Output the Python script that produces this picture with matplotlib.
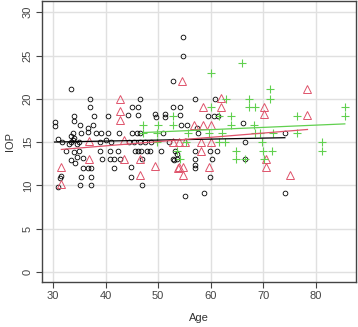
import numpy as np
import matplotlib
matplotlib.use("Agg")
from matplotlib import pyplot as plt

plt.rcParams['font.family'] = ['Liberation Sans', 'DejaVu Sans']

# group 1 (black circles)
age_1 = [33.4, 37.1, 46.5, 57.0, 60.8, 37.1, 45.0, 46.2, 52.9, 54.1, 54.8, 54.8, 52.8,
         34.0, 37.9, 40.5, 44.3, 46.2, 49.4, 49.6, 51.3, 51.3, 54.1, 59.5, 60.7, 61.4,
         30.3, 30.3, 34.1, 35.1, 37.7, 54.3, 55.4, 66.2, 57.4, 36.7, 36.7,
         35.4, 33.9, 38.2, 39.2, 40.5, 42.5, 45.0, 46.0, 46.6, 51.0, 57.6, 74.1, 33.5, 34.0,
         31.0, 31.7, 33.4, 33.9, 34.5, 35.0, 39.0, 40.0, 41.0, 44.5, 45.5, 46.6, 47.5, 48.6,
         66.5, 52.0, 33.0,
         32.5, 35.0, 38.9, 40.8, 42.4, 45.6, 46.2, 46.7, 47.8, 48.4, 50.5, 53.2, 57.0,
         59.8, 61.2, 53.6, 34.0,
         34.6, 35.8, 39.4, 40.8, 41.7, 42.7, 46.9, 52.8, 53.0, 53.6, 57.0, 60.2, 66.5,
         57.0, 33.5, 34.2,
         35.7, 36.6, 37.3, 41.7, 44.8, 57.0,
         31.6, 31.3, 35.4, 37.3, 44.8, 59.8,
         31.0, 35.2, 37.3, 47.0,
         55.2, 58.7, 74.1]
iop_1 = [21.1, 20.0, 20.0, 20.0, 20.0, 19.0, 19.1, 19.1, 19.1, 19.1, 27.1, 25.0, 22.1,
         18.0, 18.0, 18.0, 18.1, 18.1, 18.3, 17.9, 18.3, 17.9, 18.1, 18.0, 18.0, 18.0,
         17.3, 16.8, 17.4, 17.0, 17.0, 17.0, 17.0, 17.2, 16.6, 16.6, 16.2,
         16.0, 16.0, 16.0, 16.0, 16.0, 16.0, 16.0, 16.0, 16.0, 16.0, 16.0, 16.1, 15.7, 15.5,
         15.3, 15.0, 15.0, 15.2, 14.8, 15.0, 15.0, 15.2, 15.0, 15.0, 15.0, 15.0, 15.0, 15.0,
         15.0, 15.0, 14.8,
         14.0, 14.0, 14.0, 14.0, 14.0, 14.0, 14.0, 14.0, 14.0, 14.0, 14.0, 14.0, 14.0,
         14.0, 14.0, 13.6, 13.8,
         13.3, 13.2, 13.1, 13.1, 13.1, 13.1, 13.0, 13.0, 12.9, 13.1, 13.0, 13.1, 13.1,
         12.4, 12.9, 12.6,
         12.0, 12.0, 12.0, 12.0, 12.1, 12.0,
         11.1, 10.8, 11.0, 11.0, 11.0, 11.0,
         9.8, 10.0, 10.0, 10.0,
         8.8, 9.1, 9.1]

# group 2 (red triangles)
age_2 = [31.6, 31.6, 36.8, 36.8, 42.7, 42.7, 42.7, 43.5, 43.5, 46.5, 46.5, 49.4, 52.8,
         53.8, 54.5, 54.0, 55.1, 54.0, 54.7, 54.7, 56.9, 58.6, 60.0, 58.6, 61.9, 61.9,
         58.1, 60.0, 58.1, 59.7, 70.1, 70.1, 70.5, 70.5, 75.1, 78.4, 78.4]
iop_2 = [12.1, 10.2, 15.1, 13.1, 20.0, 18.6, 17.6, 15.2, 13.0, 13.0, 11.2, 12.2, 15.0,
         12.0, 22.1, 15.0, 15.0, 12.1, 12.1, 11.2, 17.0, 17.0, 17.0, 19.0, 20.1, 19.0,
         15.0, 15.0, 14.0, 12.1, 19.0, 18.2, 13.0, 12.1, 11.2, 21.1, 18.1]

# group 3 (green crosses)
age_3 = [47.2, 50.0, 52.9, 52.9, 47.2, 49.7, 49.7, 55.7, 59.7, 62.2, 68.4, 69.4, 71.8,
         76.5, 60.0, 65.9, 71.3, 62.9, 67.3, 71.3, 60.0, 67.3, 68.4, 85.5, 61.6, 63.8,
         76.5, 85.5, 63.8, 68.2, 61.6, 62.7, 69.7, 81.1, 64.9, 70.0, 71.6, 81.1, 54.1,
         53.5, 64.9, 66.5, 70.2, 55.3]
iop_3 = [17.0, 17.0, 17.0, 18.0, 16.0, 16.0, 15.0, 16.0, 16.0, 16.0, 16.0, 16.0, 16.0,
         16.0, 23.0, 24.1, 21.1, 20.0, 20.0, 20.0, 19.0, 19.0, 19.0, 19.0, 18.0, 18.0,
         18.0, 18.0, 17.0, 17.0, 15.0, 15.0, 15.0, 15.0, 14.0, 14.0, 14.0, 14.0, 13.0,
         14.0, 13.1, 13.1, 13.0, 15.0]

# fitted lines (intercept, slope)
fit_1 = (14.66, 0.0114)
fit_2 = (12.59, 0.0493)
fit_3 = (14.87, 0.0261)

x_ticks = [30, 40, 50, 60, 70, 80]
y_ticks = [0, 5, 10, 15, 20, 25, 30]

col_1 = 'black'
col_2 = '#DF536B'
col_3 = '#61D04F'

fig = plt.figure(figsize=(3.58, 3.27), dpi=100)
ax = fig.add_axes([0.117, 0.138, 0.877, 0.859])

ax.set_xlim(27.9, 87.6)
ax.set_ylim(-1.15, 31.3)
ax.set_xticks(x_ticks)
ax.set_yticks(y_ticks)
ax.grid(True, color='#E0E0E0', lw=1.0)
ax.set_axisbelow(True)

ax.plot(age_1, iop_1, 'o', mfc='none', mec=col_1, ms=3.4, mew=0.6)
ax.plot(age_2, iop_2, '^', mfc='none', mec=col_2, ms=5.4, mew=0.7)
ax.plot(age_3, iop_3, '+', color=col_3, ms=6.0, mew=0.8)

for ages, fit, c in [(age_1, fit_1, col_1), (age_2, fit_2, col_2), (age_3, fit_3, col_3)]:
    xs = np.array([min(ages), max(ages)])
    ax.plot(xs, fit[0] + fit[1] * xs, color=c, lw=0.9)

for s in ax.spines.values():
    s.set_color('#444444')
    s.set_linewidth(1.0)
ax.tick_params(direction='out', length=4, width=0.8, color='#444444',
               labelsize=8, labelcolor='#444444', pad=2.5)
for lab in ax.get_yticklabels():
    lab.set_rotation(90)
    lab.set_va('center')

ax.set_xlabel('Age', fontsize=8, color='#333333', labelpad=9)
ax.set_ylabel('IOP', fontsize=8, color='#333333', labelpad=6)

fig.savefig('out.png', dpi=100)
